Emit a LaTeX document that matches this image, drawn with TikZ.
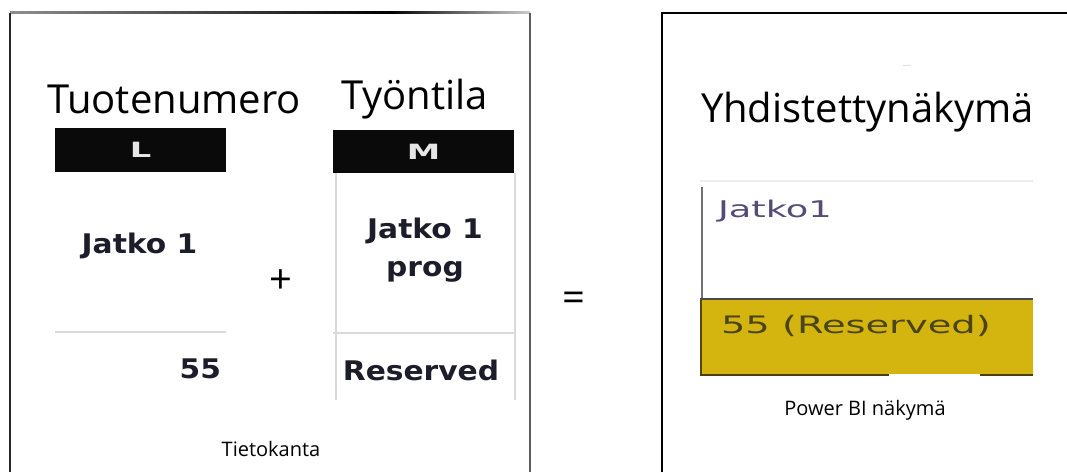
\documentclass[tikz,border=0pt]{standalone}
\usepackage{fontspec}
\setmainfont{Open Sans}
\newfontfamily\cellfont{DejaVu Sans}[FakeStretch=1.1]
\newfontfamily\widefont{DejaVu Sans}[FakeStretch=1.6]
\definecolor{headbg}{HTML}{0A0A0A}
\definecolor{headtext}{HTML}{E6E6E6}
\definecolor{gridgrey}{HTML}{DADADA}
\definecolor{goldcell}{HTML}{D4B40E}
\definecolor{olivetext}{HTML}{4A4418}
\definecolor{violetgrey}{HTML}{554A78}
\definecolor{celltext}{HTML}{1C1C2A}
\definecolor{framegrey}{HTML}{5E5E5E}

\begin{document}
\begin{tikzpicture}[x=1pt,y=-1pt,
  every node/.style={inner sep=0pt, outer sep=0pt},
  bigtitle/.style={font=\fontsize{40}{44}\selectfont, anchor=base west},
  caption/.style={font=\fontsize{20}{24}\selectfont, anchor=base},
  colhead/.style={fill=headbg, text=headtext, font=\widefont\bfseries\fontsize{21}{24}\selectfont},
  cellbold/.style={font=\cellfont\bfseries\fontsize{27}{30}\selectfont, text=celltext},
  pbitext/.style={font=\widefont\fontsize{24}{28}\selectfont, anchor=base west},
  gridline/.style={draw=gridgrey, line width=1.4pt},
  opsign/.style={font=\fontsize{40}{44}\selectfont}
]
\useasboundingbox (0,0) rectangle (1067,472);
\fill[white] (0,0) rectangle (1067,472);

% ---- left frame: database side ----
\shade[left color=framegrey!70, right color=black] (10,11.8) rectangle (390,13.4);
\shade[left color=black, right color=black!20] (390,11.8) rectangle (530,13.4);
\draw[line width=1.6pt, black!85] (10,12.6) -- (10,472);
\draw[line width=1.6pt, framegrey] (530,12.6) -- (530,472);

\node[bigtitle] (t1) at (47,113) {Tuotenumero};
\node[bigtitle] (t2) at (341,109) {Työntila};

% column L
\node[colhead, minimum width=171pt, minimum height=44pt] (hL) at (140.5,150) {L};
\node[cellbold, anchor=base] (l1) at (139.5,253) {Jatko 1};
\draw[gridline] (55,332) -- (226,332);
\node[cellbold, anchor=base east] (l2) at (221,378) {55};

% column M
\node[colhead, minimum width=181pt, minimum height=43pt] (hM) at (423.5,151.5) {M};
\draw[gridline] (336,173) -- (336,400);
\draw[gridline] (515,173) -- (515,400);
\draw[gridline] (333,333) -- (515,333);
\node[cellbold, anchor=base] (m1) at (425,238) {Jatko 1};
\node[cellbold, anchor=base] (m2) at (425,276) {prog};
\node[cellbold, anchor=base] (m3) at (421,380) {Reserved};

\node[opsign] (plus) at (281,282) {+};
\node[caption] (db) at (271,456) {Tietokanta};

\node[opsign] (eq) at (574,302) {=};

% ---- right frame: Power BI side ----
\draw[line width=2pt, black] (662,472) -- (662,13) -- (1070,13);
\draw[line width=1pt, black!12] (903,65.5) -- (911,65.5);

\node[bigtitle] (t3) at (701,122) {Yhdistettynäkymä};

\draw[line width=2pt, black!7] (700,181) -- (1033,181);
\draw[line width=1.5pt, black!55] (702,187) -- (702,299);
\fill[goldcell] (700,300) rectangle (1033,374);
\draw[line width=1.5pt, black!70] (700,299) -- (1033,299);
\draw[line width=1.5pt, black!60!goldcell] (700.8,300) -- (700.8,375);
\draw[line width=1.6pt, black!65!goldcell] (700,374.8) -- (889,374.8);
\draw[line width=1.6pt, black!65!goldcell] (980,374.8) -- (1033,374.8);

\node[pbitext, text=violetgrey, font=\widefont\fontsize{23}{27}\selectfont] (r1) at (718,217) {Jatko1};
\node[pbitext, text=olivetext] (r2) at (721,333) {55 (Reserved)};

\node[caption] (pbi) at (865,415) {Power BI näkymä};
\end{tikzpicture}
\end{document}
